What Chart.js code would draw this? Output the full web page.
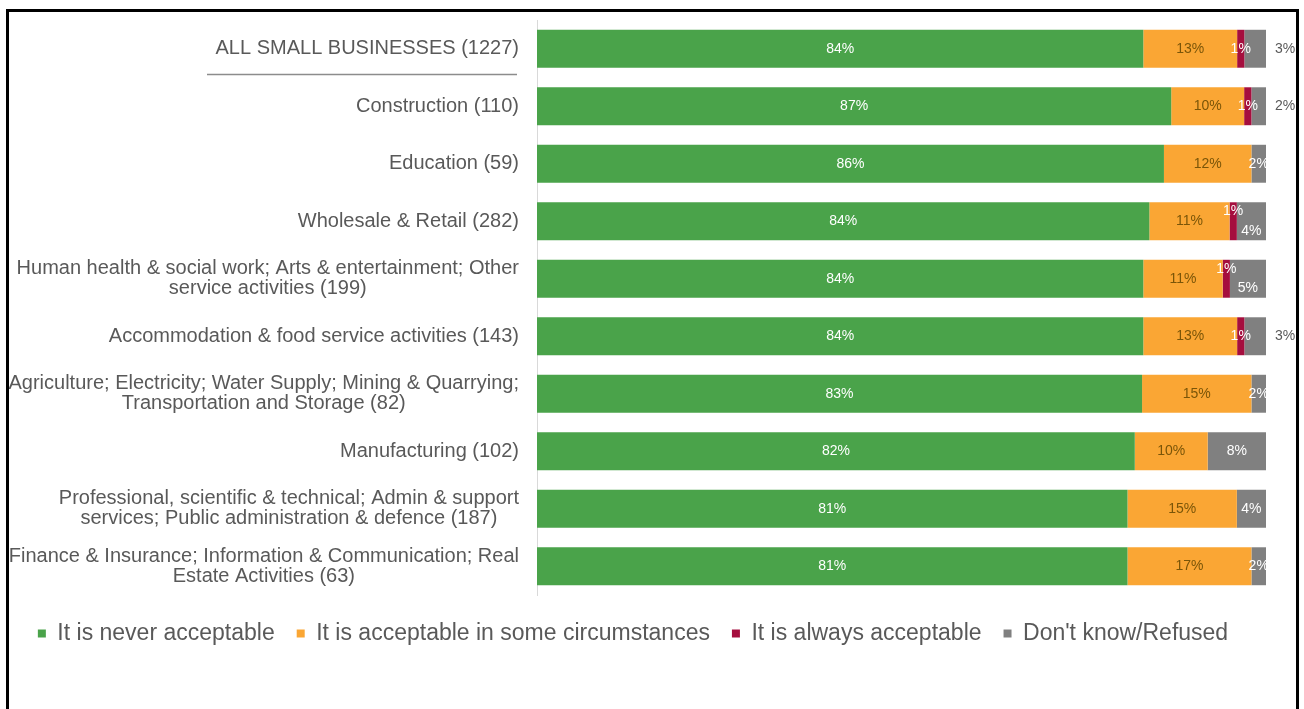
<!DOCTYPE html>
<html>
<head>
<meta charset="utf-8">
<script src="https://cdn.jsdelivr.net/npm/chart.js@4.4.0/dist/chart.umd.min.js"></script>
<style>
  html, body { margin: 0; padding: 0; background: #fff; overflow: hidden; }
  #wrap { position: relative; width: 1304px; height: 709px; }
  #frame { position: absolute; left: 6px; top: 9px; width: 1287px; height: 720px; border: 3px solid #000; pointer-events: none; }
</style>
</head>
<body>
<div id="wrap">
  <canvas id="chart"></canvas>
  <div id="frame"></div>
</div>
<script>
const categories = [
  'ALL SMALL BUSINESSES (1227)',
  'Construction (110)',
  'Education (59)',
  'Wholesale & Retail (282)',
  ['Human health & social work; Arts & entertainment; Other', 'service activities (199)'],
  'Accommodation & food service activities (143)',
  ['Agriculture; Electricity; Water Supply; Mining & Quarrying;', 'Transportation and Storage (82)'],
  'Manufacturing (102)',
  ['Professional, scientific & technical; Admin & support', 'services; Public administration & defence (187)'],
  ['Finance & Insurance; Information & Communication; Real', 'Estate Activities (63)']
];

const seriesNames = [
  'It is never acceptable',
  'It is acceptable in some circumstances',
  'It is always acceptable',
  "Don't know/Refused"
];

const neverAcceptable   = [84, 87, 86, 84, 84, 84, 83, 82, 81, 81];
const someCircumstances = [13, 10, 12, 11, 11, 13, 15, 10, 15, 17];
const alwaysAcceptable  = [1, 1, 0, 1, 1, 1, 0, 0, 0, 0];
const dontKnow          = [3, 2, 2, 4, 5, 3, 2, 8, 4, 2];

const seriesColors = ['#4aa34a', '#faa634', '#a50e3e', '#808080'];
const labelColors = ['#ffffff', '#7a5508', '#ffffff', '#ffffff'];

const FONT = '"Liberation Sans", Arial, sans-serif';
const raw = [neverAcceptable, someCircumstances, alwaysAcceptable, dontKnow];

// 100% stacked: each row is scaled so the segments fill the bar
const rowTotals = categories.map((c, i) => raw.reduce((s, arr) => s + arr[i], 0));
const shares = raw.map(arr => arr.map((v, i) => v / rowTotals[i] * 100));

const segLabels = {
  id: 'segLabels',
  afterDatasetsDraw(chart) {
    const ctx = chart.ctx;
    ctx.save();
    ctx.font = '14px ' + FONT;
    ctx.textBaseline = 'middle';
    ctx.textAlign = 'center';
    raw.forEach((arr, di) => {
      chart.getDatasetMeta(di).data.forEach((bar, i) => {
        const v = arr[i];
        if (!v) return;
        let x = (bar.x + bar.base) / 2;
        let y = bar.y;
        let color = labelColors[di];
        const h = bar.height;
        if (di === 2 && dontKnow[i] >= 4) y -= h * 0.26;
        if (di === 3 && alwaysAcceptable[i] > 0) {
          if (v >= 4) {
            y += h * 0.26;
          } else {
            x = bar.x + 19;
            color = '#595959';
          }
        }
        ctx.fillStyle = color;
        ctx.fillText(v + '%', x, y);
      });
    });
    ctx.restore();
  }
};

const yLabels = {
  id: 'yLabels',
  afterDraw(chart) {
    const ctx = chart.ctx;
    const s = chart.scales.y;
    const right = chart.chartArea.left - 18;
    const lineH = 20;
    ctx.save();
    ctx.font = '20px ' + FONT;
    ctx.fillStyle = '#595959';
    ctx.textBaseline = 'middle';
    ctx.textAlign = 'center';
    categories.forEach((lab, i) => {
      const lines = Array.isArray(lab) ? lab : [lab];
      const w = Math.max(...lines.map(l => ctx.measureText(l).width));
      const cx = right - w / 2;
      const yc = s.getPixelForTick(i);
      lines.forEach((l, k) => ctx.fillText(l, cx, yc + (k - (lines.length - 1) / 2) * lineH));
    });
    // rule under the total row
    const ySep = (s.getPixelForTick(0) + s.getPixelForTick(1)) / 2 - 3;
    ctx.strokeStyle = '#8c8c8c';
    ctx.lineWidth = 1.5;
    ctx.beginPath();
    ctx.moveTo(right - 312, ySep);
    ctx.lineTo(right - 2, ySep);
    ctx.stroke();
    ctx.restore();
  }
};

new Chart(document.getElementById('chart'), {
  type: 'bar',
  data: {
    labels: categories,
    datasets: seriesNames.map((name, di) => ({
      label: name,
      data: shares[di],
      backgroundColor: seriesColors[di],
      borderWidth: 0,
      barPercentage: 0.66,
      categoryPercentage: 1
    }))
  },
  options: {
    indexAxis: 'y',
    responsive: true,
    maintainAspectRatio: false,
    animation: false,
    layout: { padding: { top: 20, right: 38, left: 0, bottom: 54 } },
    scales: {
      x: {
        stacked: true,
        min: 0,
        max: 100,
        display: true,
        ticks: { display: false },
        grid: { display: false },
        border: { display: false },
        afterFit: s => { s.height = 5; }
      },
      y: {
        stacked: true,
        ticks: { display: false },
        grid: { display: false },
        border: { display: true, color: '#d9d9d9', width: 1 },
        afterFit: s => { s.width = 537; }
      }
    },
    plugins: {
      legend: {
        position: 'bottom',
        labels: {
          boxWidth: 8,
          boxHeight: 8,
          color: '#595959',
          padding: 22,
          font: { size: 23, family: FONT }
        }
      },
      tooltip: { enabled: false }
    }
  },
  plugins: [segLabels, yLabels]
});
</script>
</body>
</html>
